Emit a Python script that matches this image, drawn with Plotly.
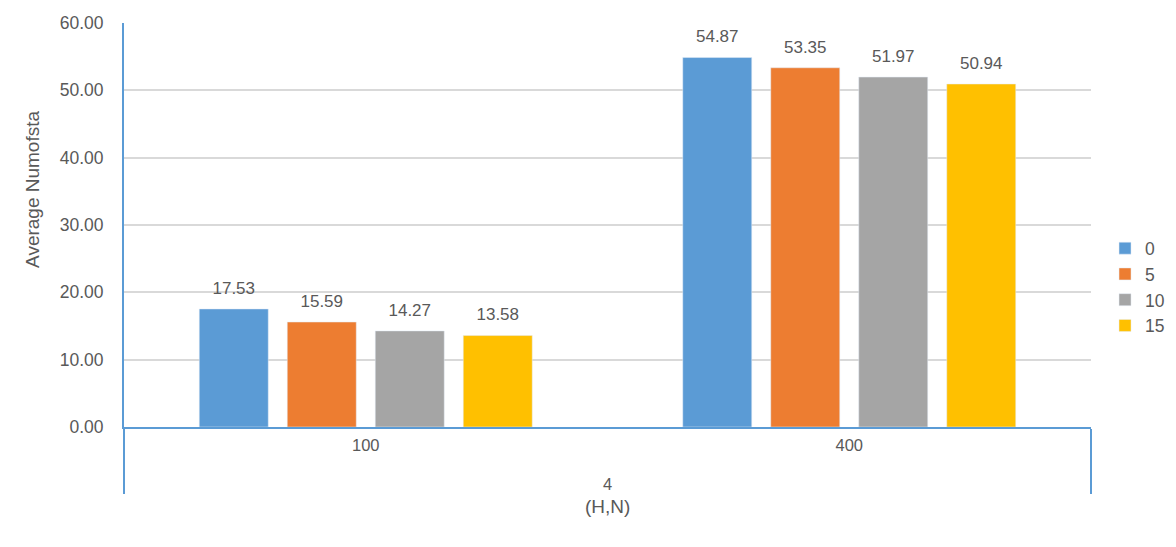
import plotly.graph_objects as go

# categories: outer group (H) and inner group (N)
groups = ["4", "4"]
n_values = ["100", "400"]

series_names = ["0", "5", "10", "15"]
series_colors = ["#5B9BD5", "#ED7D31", "#A5A5A5", "#FFC000"]

# average Numofsta per series, for N = 100 and N = 400
avg_0 = [17.53, 54.87]
avg_5 = [15.59, 53.35]
avg_10 = [14.27, 51.97]
avg_15 = [13.58, 50.94]

series_values = [avg_0, avg_5, avg_10, avg_15]

# blank first line pushes the outer group label further down, as in Excel
group_labels = ["<br>" + g for g in groups]
x_cats = [group_labels, n_values]

grey = "#595959"

fig = go.Figure()
for name, vals, color in zip(series_names, series_values, series_colors):
    fig.add_trace(go.Bar(
        x=x_cats,
        y=vals,
        name=name,
        marker_color=color,
        offsetgroup=name,
        alignmentgroup="a",
    ))
    # data labels, sitting a little above the bars
    fig.add_trace(go.Scatter(
        x=x_cats,
        y=vals,
        mode="markers+text",
        marker=dict(size=16, opacity=0),
        text=[f"{v:.2f}" for v in vals],
        textposition="top center",
        textfont=dict(color=grey, size=17),
        offsetgroup=name,
        alignmentgroup="a",
        showlegend=False,
        hoverinfo="skip",
        cliponaxis=False,
    ))

# the page body has an 8px margin, so the figure is a bit smaller than the window
fig.update_layout(
    width=1160,
    height=531,
    paper_bgcolor="white",
    plot_bgcolor="white",
    font=dict(family="Liberation Sans, Arial, sans-serif", color=grey, size=17),
    margin=dict(l=116, r=77, t=15, b=112, autoexpand=False),
    barmode="group",
    scattermode="group",
    bargap=0.272,
    bargroupgap=0.216,
    scattergap=0.272,
    legend=dict(
        x=1.0145, y=0.347, xanchor="left", yanchor="middle",
        font=dict(size=17.5, color=grey),
        itemwidth=30,
        tracegroupgap=0,
    ),
    showlegend=True,
    annotations=[
        dict(text="Average Numofsta", textangle=-90, xref="paper", yref="paper",
             x=-0.094, y=0.587, xanchor="center", yanchor="middle",
             showarrow=False, font=dict(size=19, color=grey)),
        dict(text="(H,N)", xref="paper", yref="paper",
             x=0.5, y=-0.198, xanchor="center", yanchor="middle",
             showarrow=False, font=dict(size=19, color=grey)),
    ],
)

fig.update_yaxes(
    range=[0, 60],
    dtick=10,
    tickformat=".2f",
    showgrid=True,
    gridcolor="#D9D9D9",
    gridwidth=1.5,
    showline=True,
    linecolor="#5B9BD5",
    linewidth=2,
    zeroline=False,
    ticks="",
    ticklabelstandoff=15,
    automargin=False,
    tickfont=dict(size=17.5, color=grey),
)

fig.update_xaxes(
    type="multicategory",
    showline=True,
    linecolor="#5B9BD5",
    linewidth=2,
    showdividers=True,
    dividercolor="#5B9BD5",
    dividerwidth=2,
    ticks="",
    ticklabelstandoff=2,
    automargin=False,
    tickfont=dict(size=16.5, color=grey),
)

fig.write_html("out.html")
